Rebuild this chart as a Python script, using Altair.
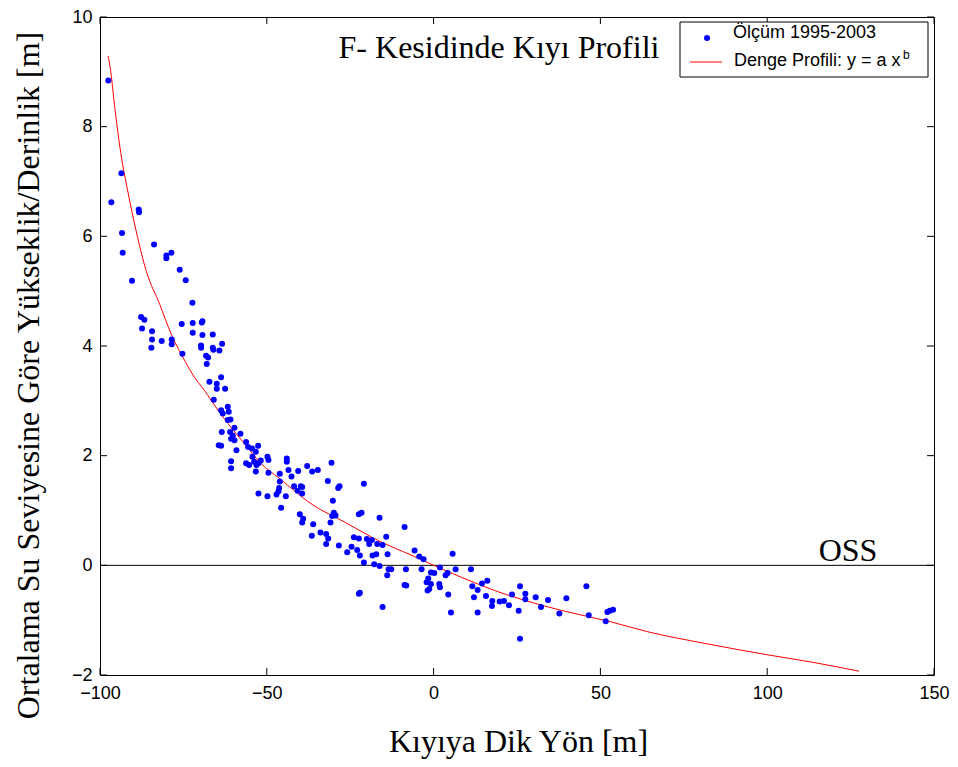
import altair as alt
import pandas as pd

# Measured points (Ölçüm 1995-2003)
pts_x = [
    -97.5, -93.6, -96.6, -88.4, -88.3, -93.4, -93.2, -83.8, -80.1, -80.1,
    -78.6, -90.4, -76.1, -74.3, -72.3, -87.7, -86.7, -87.4, -84.4, -84.4,
    -84.6, -81.5, -78.5, -78.5, -75.5, -75.3, -72.2, -69.5, -69.3, -72.2,
    -69.3, -66.2, -69.7, -69.7, -66.2, -66.0, -64.2, -63.4, -68.2, -67.6,
    -68.0,
    -63.7, -67.2, -65.0, -65.0, -62.5, -65.9, -63.7, -63.2, -61.7, -61.4,
    -60.9, -61.7, -59.7, -61.0, -57.9, -63.5, -60.7, -59.7, -60.2, -64.4,
    -63.7, -59.1, -56.2, -55.6, -54.4, -52.6, -53.3, -54.3, -53.8, -52.5,
    -53.1, -51.8, -56.2, -55.3, -60.7, -60.7, -49.8, -49.5, -53.3, -49.5,
    -44.0, -44.0, -46.1, -46.1, -43.5, -42.6, -40.6, -37.9, -41.8, -39.8,
    -39.4, -46.5, -47.1, -44.3, -52.5, -49.8, -40.8, -39.4,
    -36.4, -34.7, -30.6, -31.7, -28.6, -28.2, -20.9, -46.3, -45.7, -30.2,
    -29.9, -30.4, -29.4, -30.9, -40.1, -39.1, -39.4, -36.1, -36.5, -33.9,
    -32.2, -31.6, -32.2, -28.4, -22.4, -21.6, -16.2, -23.9, -22.4, -24.6,
    -25.9, -22.9, -22.1, -20.9, -20.0, -18.5, -19.3, -16.9, -15.3, -18.3,
    -17.2, -14.2, -13.8, -17.8, -16.2, -13.5, -12.7, -13.9, -22.4, -22.1,
    -15.3, -8.7, -8.3, -8.7, -8.2,
    -5.7, -4.3, -3.0, -3.6, -0.8, 0.2, -1.6, -2.1, -0.8, -1.8,
    -1.3, 1.9, 1.7, 1.9, 3.6, 4.2, 4.4, 5.7, 6.6, 5.2,
    11.2, 11.6, 12.1, 13.2, 14.5, 16.1, 13.2, 15.7, 17.6, 17.5,
    19.8, 21.1, 22.6, 23.5, 25.9, 25.5, 25.9, 27.5, 27.5,
    30.6, 32.2, 34.3, 37.7, 39.8, 45.8, 46.5, 51.6, 52.1, 52.8, 53.8,
]
pts_y = [
    8.84, 7.15, 6.62, 6.49, 6.44, 6.06, 5.70, 5.85, 5.65, 5.60,
    5.70, 5.19, 5.39, 5.20, 4.79, 4.53, 4.48, 4.32, 4.27, 4.12,
    3.97, 4.09, 4.12, 4.03, 4.40, 3.86, 4.42, 4.43, 4.45, 4.24,
    4.20, 4.21, 4.01, 3.97, 3.97, 3.93, 3.92, 4.04, 3.82, 3.79,
    3.67,
    3.43, 3.35, 3.31, 3.22, 3.22, 3.02, 2.83, 2.77, 2.89, 2.80,
    2.66, 2.65, 2.51, 2.43, 2.40, 2.43, 2.31, 2.28, 2.37, 2.19,
    2.18, 2.10, 2.25, 2.16, 2.13, 2.18, 2.07, 1.98, 1.89, 1.86,
    1.83, 1.91, 1.86, 1.83, 1.90, 1.77, 1.98, 1.92, 1.71, 1.69,
    1.95, 1.89, 1.67, 1.53, 1.74, 1.62, 1.72, 1.81, 1.44, 1.44,
    1.43, 1.35, 1.29, 1.26, 1.31, 1.26, 1.36, 1.31,
    1.71, 1.74, 1.87, 1.54, 1.41, 1.44, 1.49, 1.41, 1.05, 1.18,
    0.96, 0.90, 0.91, 0.78, 0.93, 0.85, 0.78, 0.75, 0.54, 0.60,
    0.57, 0.49, 0.39, 0.36, 0.93, 0.96, 0.87, 0.51, 0.49, 0.34,
    0.24, 0.28, 0.18, 0.05, 0.48, 0.46, 0.39, 0.39, 0.37, 0.18,
    0.20, 0.52, 0.20, 0.02, -0.01, -0.07, -0.07, -0.18, -0.52, -0.50,
    -0.76, 0.70, -0.07, -0.36, -0.37,
    0.27, 0.16, 0.11, -0.07, -0.13, -0.14, -0.24, -0.31, -0.34, -0.46,
    -0.43, -0.04, -0.34, -0.40, -0.18, -0.14, -0.53, 0.21, -0.07, -0.86,
    -0.07, -0.38, -0.58, -0.45, -0.33, -0.28, -0.86, -0.56, -0.65, -0.74,
    -0.66, -0.65, -0.73, -0.53, -0.38, -0.83, -1.34, -0.52, -0.62,
    -0.58, -0.76, -0.63, -0.88, -0.60, -0.38, -0.91, -1.02, -0.85, -0.83, -0.81,
]

# Equilibrium profile (Denge Profili)
fit_x = [-97.6, -97.0, -95.5, -93.8, -91.6, -89.1, -86.1, -82.1, -78.6, -74.3,
         -71.7, -68.7, -66.7, -61.7, -56.7, -51.8, -46.3, -36.4, -26.4, -16.5,
         -6.5, 0.4, 8.4, 18.3, 38.2, 53.1, 64.1, 81.0, 99.9, 113.8, 127.5]
fit_y = [9.29, 9.10, 8.31, 7.53, 6.80, 6.08, 5.36, 4.76, 4.21, 3.70,
         3.43, 3.19, 3.01, 2.59, 2.22, 1.86, 1.59, 1.11, 0.78, 0.45,
         0.18, -0.01, -0.22, -0.46, -0.82, -1.03, -1.21, -1.42, -1.63, -1.77, -1.93]

x_ticks = [-100, -50, 0, 50, 100, 150]
y_ticks = [-2, 0, 2, 4, 6, 8, 10]

W, H = 834, 658
SANS = "Liberation Sans"
SERIF = "Liberation Serif"

xscale = alt.Scale(domain=[-100, 150], nice=False, zero=False)
yscale = alt.Scale(domain=[-2, 10], nice=False, zero=False)

xaxis = alt.Axis(values=x_ticks, title="Kıyıya Dik Yön [m]", ticks=False, domain=False,
                 grid=False, labelFont=SANS, labelFontSize=18, labelColor="black",
                 labelPadding=9, labelFlush=False, labelOverlap=False,
                 titleFont=SERIF, titleFontSize=32, titleFontWeight="normal",
                 titleColor="black", titleBaseline="alphabetic", titleX=418,
                 titleY=76, titleAlign="center")
yaxis = alt.Axis(values=y_ticks, title="Ortalama Su Seviyesine Göre Yükseklik/Derinlik [m]",
                 ticks=False, domain=False, grid=False, labelFont=SANS, labelFontSize=18,
                 labelColor="black", labelPadding=8, labelFlush=False, labelOverlap=False,
                 titleFont=SERIF, titleFontSize=32, titleFontWeight="normal",
                 titleColor="black", titleAngle=270, titleBaseline="alphabetic",
                 titleX=-62, titleY=358, titleAlign="center")

X = alt.X("x:Q", scale=xscale, axis=xaxis)
Y = alt.Y("y:Q", scale=yscale, axis=yaxis)

df_pts = pd.DataFrame({"x": pts_x, "y": pts_y})
df_fit = pd.DataFrame({"x": fit_x, "y": fit_y})
one = pd.DataFrame({"a": [0]})

points = alt.Chart(df_pts).mark_circle(size=36, color="#0000ff", opacity=1).encode(x=X, y=Y)
fit = alt.Chart(df_fit).mark_line(color="#ff0000", strokeWidth=1,
                                  interpolate="monotone").encode(x=X, y=Y)
zero = alt.Chart(pd.DataFrame({"y": [0]})).mark_rule(color="black", strokeWidth=1).encode(y=Y)

xt = pd.DataFrame({"x": x_ticks})
yt = pd.DataFrame({"y": y_ticks})
tick_b = alt.Chart(xt).mark_rule(color="black").encode(x=X, y=alt.value(H), y2=alt.value(H - 7))
tick_t = alt.Chart(xt).mark_rule(color="black").encode(x=X, y=alt.value(0), y2=alt.value(7))
tick_l = alt.Chart(yt).mark_rule(color="black").encode(y=Y, x=alt.value(0), x2=alt.value(7))
tick_r = alt.Chart(yt).mark_rule(color="black").encode(y=Y, x=alt.value(W), x2=alt.value(W - 7))

leg_box = alt.Chart(one).mark_rect(fill="white", stroke="black", strokeWidth=1).encode(
    x=alt.value(580), x2=alt.value(828), y=alt.value(5), y2=alt.value(60))
leg_dot = alt.Chart(one).mark_circle(size=36, color="#0000ff", opacity=1).encode(
    x=alt.value(607), y=alt.value(21))
leg_line = alt.Chart(one).mark_rule(color="#ff0000", strokeWidth=1).encode(
    x=alt.value(590), x2=alt.value(622), y=alt.value(45))
leg_t1 = alt.Chart(one).mark_text(font=SANS, fontSize=18, align="left", baseline="alphabetic",
                                  color="black").encode(
    x=alt.value(633), y=alt.value(21), text=alt.value("Ölçüm 1995-2003"))
leg_t2 = alt.Chart(one).mark_text(font=SANS, fontSize=18, align="left", baseline="alphabetic",
                                  color="black").encode(
    x=alt.value(634), y=alt.value(49), text=alt.value("Denge Profili: y = a x"))
leg_sup = alt.Chart(one).mark_text(font=SANS, fontSize=12, align="left", baseline="alphabetic",
                                   color="black").encode(
    x=alt.value(803), y=alt.value(42), text=alt.value("b"))

title = alt.Chart(one).mark_text(font=SERIF, fontSize=32, align="center", baseline="alphabetic",
                                 color="black").encode(
    x=alt.value(399), y=alt.value(41), text=alt.value("F- Kesidinde Kıyı Profili"))
oss = alt.Chart(one).mark_text(font=SERIF, fontSize=32, align="center", baseline="alphabetic",
                               color="black").encode(
    x=alt.value(748), y=alt.value(544), text=alt.value("OSS"))

chart = alt.layer(
    zero, fit, points, tick_b, tick_t, tick_l, tick_r,
    leg_box, leg_dot, leg_line, leg_t1, leg_t2, leg_sup, title, oss,
).properties(
    width=W, height=H,
    autosize=alt.AutoSizeParams(type="none"),
    padding={"left": 92, "top": 9, "right": 16, "bottom": 84},
    background="white",
).configure_view(stroke="black", strokeWidth=1)

chart.save("out.html", embed_options={"renderer": "svg", "actions": False})
